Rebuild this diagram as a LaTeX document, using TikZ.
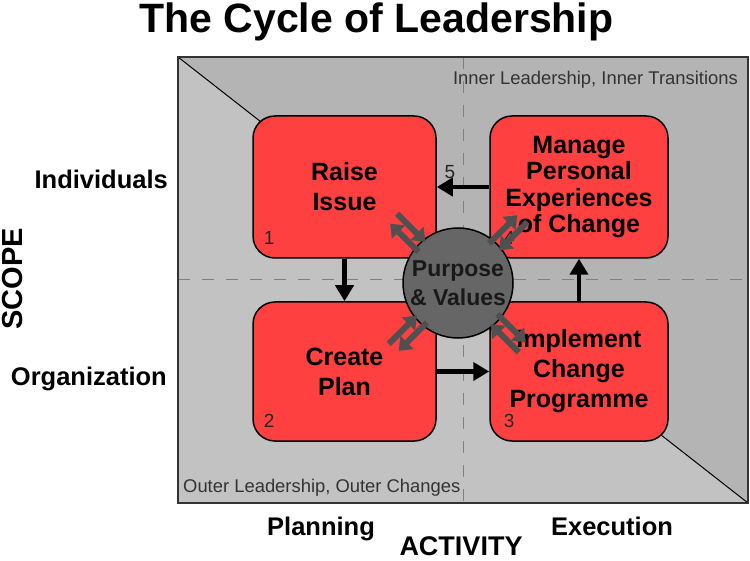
\documentclass[tikz,border=0pt]{standalone}
\usepackage{fontspec}
\setmainfont{Liberation Sans}
\usetikzlibrary{arrows.meta,positioning}
\definecolor{boxred}{HTML}{FF4040}
\definecolor{frameupper}{HTML}{B4B4B4}
\definecolor{framelower}{HTML}{C2C2C2}
\definecolor{hubgray}{HTML}{666666}
\definecolor{pulsegray}{HTML}{505050}
\definecolor{notegray}{HTML}{333333}
\tikzset{
  stage/.style={shape=rectangle,draw=black,line width=1.5pt,fill=boxred,rounded corners=22pt,
    align=center,inner sep=0pt,font=\fontsize{25}{30}\selectfont\bfseries},
  hub/.style={shape=circle,draw=black,line width=1.5pt,fill=hubgray,minimum size=110pt,
    inner sep=0pt,align=center,text=black!90,font=\fontsize{23}{29}\selectfont\bfseries},
  num/.style={inner sep=0pt,text=black!85,font=\fontsize{19}{19}\selectfont},
  axis/.style={inner sep=0pt,font=\fontsize{25.5}{25.5}\selectfont\bfseries},
  note/.style={inner sep=0pt,text=notegray,font=\fontsize{18.4}{18.4}\selectfont},
  flow/.style={line width=4.5pt,-{Triangle[length=16pt,width=18pt]}},
  pulse/.style={draw=pulsegray,line width=6pt,-{Triangle[length=12pt,width=18pt]},fill=pulsegray},
  divider/.style={draw=black!50,line width=1pt,dash pattern=on 12pt off 12pt}
}
\begin{document}
\begin{tikzpicture}[x=1pt,y=-1pt]
  \useasboundingbox (0,0) rectangle (750,561);

  % frame
  \coordinate (nw) at (178,57);
  \coordinate (ne) at (748,57);
  \coordinate (se) at (748,503);
  \coordinate (sw) at (178,503);
  \fill[frameupper] (nw) -- (ne) -- (se) -- cycle;
  \fill[framelower] (nw) -- (sw) -- (se) -- cycle;
  \draw[line width=1pt] (nw) -- (se);
  \draw[divider] (463,57) -- (463,503);
  \draw[divider] (178,280) -- (748,280);
  \draw[draw=black!80,line width=1.5pt] (nw) rectangle (se);

  \node[shape=rectangle,font=\fontsize{41}{41}\selectfont\bfseries,inner sep=0pt,anchor=base] (title) at (376.5,33) {The Cycle of Leadership};

  \node[note,anchor=base east] (inner) at (738,85) {Inner Leadership, Inner Transitions};
  \node[note,anchor=base west] (outer) at (183,492) {Outer Leadership, Outer Changes};

  \node[axis,anchor=base east] (individuals) at (168,189) {Individuals};
  \node[axis,anchor=base east] (organization) at (167,385) {Organization};
  \node[axis,font=\fontsize{29}{29}\selectfont\bfseries,rotate=90] (scope) at (12.5,279) {SCOPE};
  \node[axis,anchor=base] (planning) at (321,535) {Planning};
  \node[axis,anchor=base] (execution) at (612,535) {Execution};
  \node[axis,font=\fontsize{27}{27}\selectfont\bfseries,anchor=base] (activity) at (461,555) {ACTIVITY};

  % stages
  \node[stage,minimum width=183pt,minimum height=142pt] (raise) at (344.5,187) {Raise\\Issue};
  \node[stage,minimum width=183pt,minimum height=139pt] (create) at (344.5,371.5) {Create\\Plan};
  \node[stage,minimum width=178pt,minimum height=139pt] (implement) at (579,371.5) {Implement\\Change\\Programme};
  \node[stage,minimum width=178pt,minimum height=142pt,font=\fontsize{25}{26.5}\selectfont\bfseries] (manage) at (579,187) {Manage\\Personal\\Experiences\\of Change};

  \node[num] at ([shift={(17,-21)}]raise.south west) {1};
  \node[num] at ([shift={(17,-21)}]create.south west) {2};
  \node[num] at ([shift={(20,-21)}]implement.south west) {3};
  \node[num] at ([shift={(20,-21)}]manage.south west) {4};

  \draw[flow] (raise) -- (create);
  \draw[flow] (create) -- (implement);
  \draw[flow] (implement) -- (manage);
  \draw[flow] (manage) -- node[num,pos=0.75,above=6pt] {5} (raise);

  % purpose and values
  \node[hub] (core) at (458,283) {Purpose\\\& Values};
  \foreach \a in {45,135,225,315}{
    \begin{scope}[shift={(core.center)},rotate=\a]
      \draw[pulse] (50,-6) -- (90,-6);
      \draw[pulse] (92,6) -- (52,6);
    \end{scope}
  }
\end{tikzpicture}
\end{document}
